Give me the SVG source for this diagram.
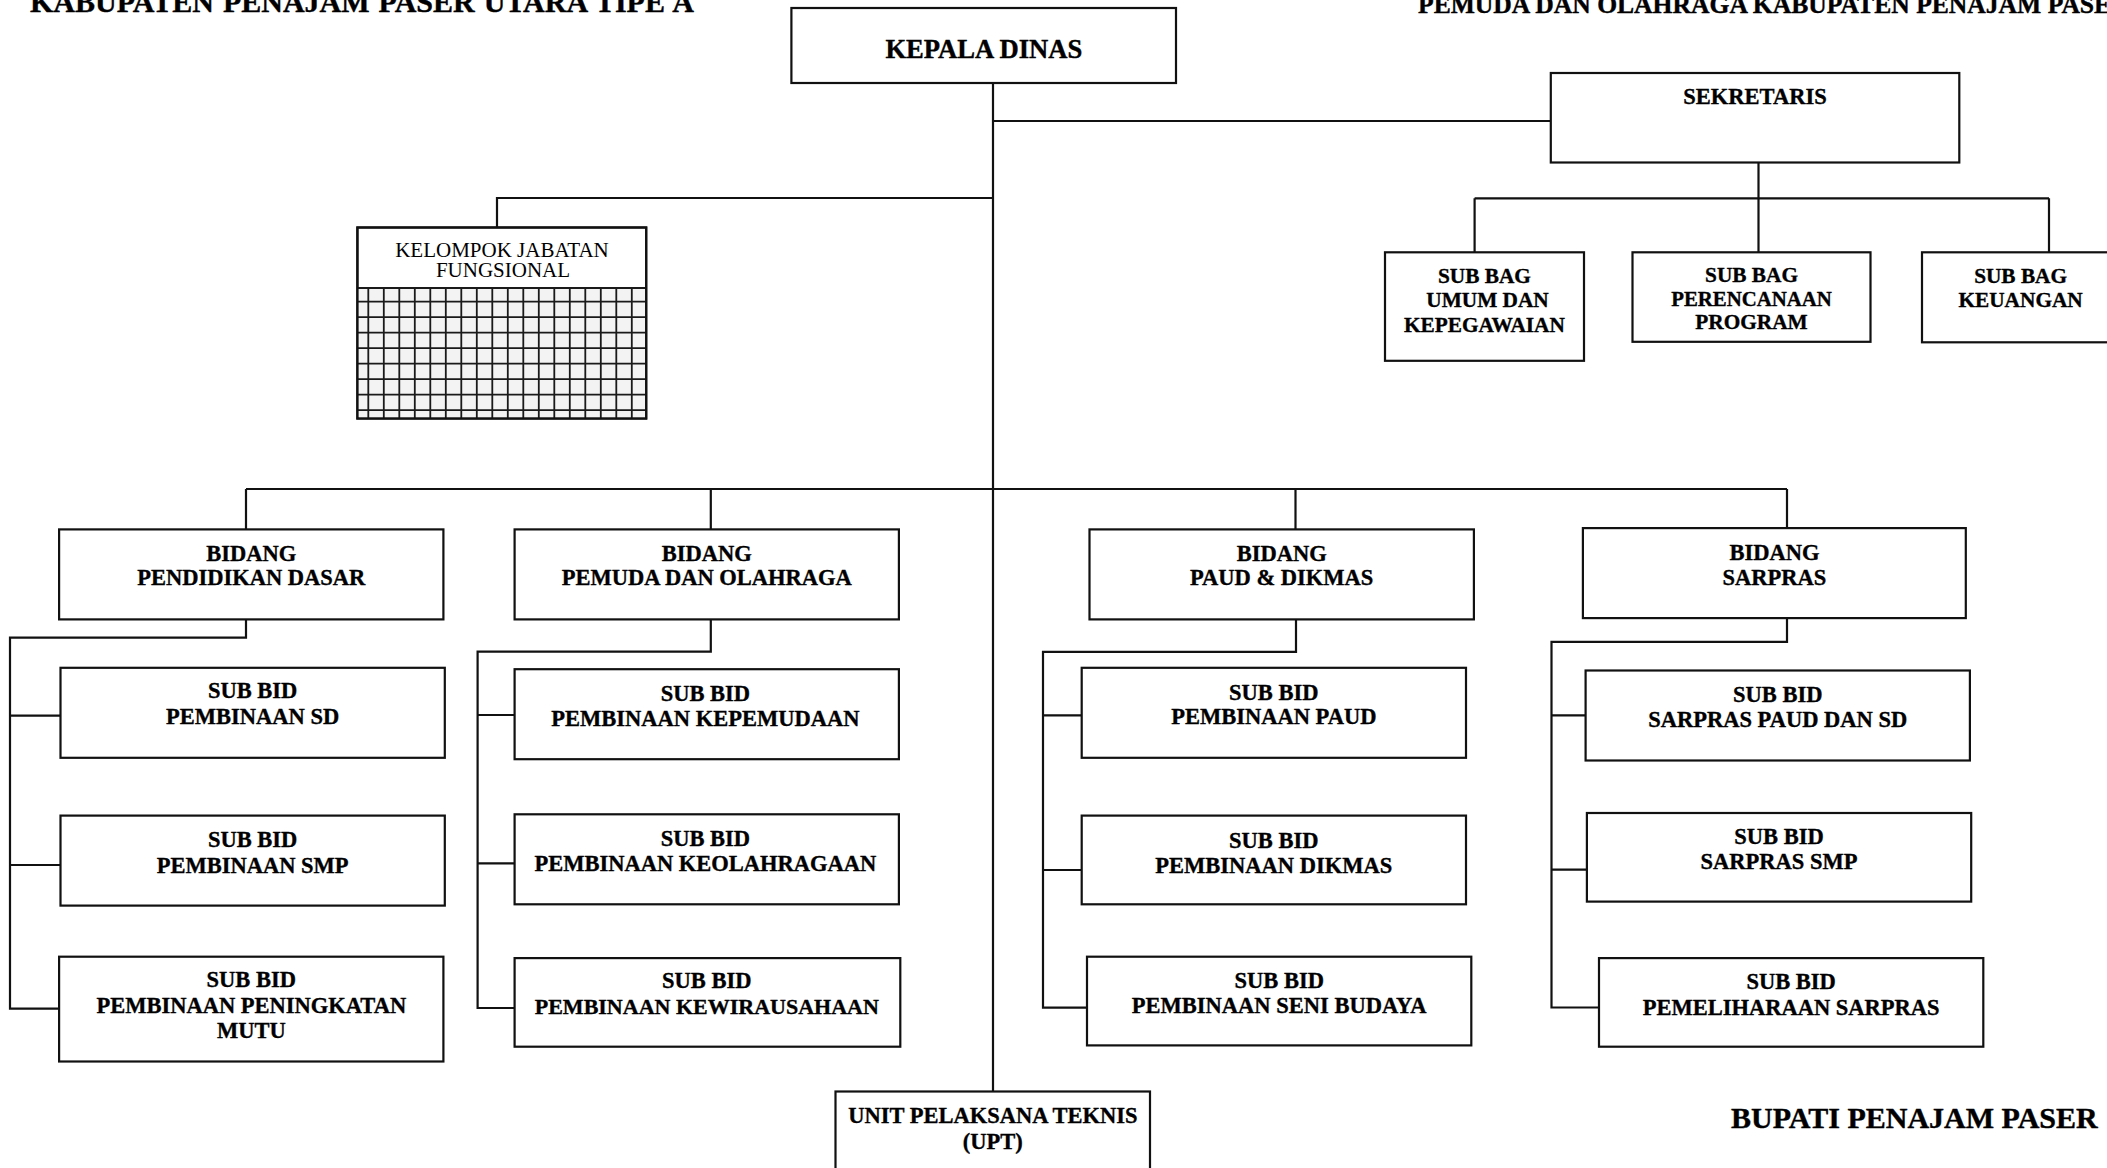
<svg xmlns="http://www.w3.org/2000/svg" width="2107" height="1168" viewBox="0 0 2107 1168">
<style>
.box{fill:#fff;stroke:#111;stroke-width:2.2}
.ln{fill:none;stroke:#111;stroke-width:2.2}
text{font-family:"Liberation Serif","Times New Roman",serif;fill:#000}
.b{font-weight:bold;font-size:22.5px;text-anchor:middle;stroke:#000;stroke-width:0.35}
.sb{font-weight:bold;font-size:21.3px;text-anchor:middle;stroke:#000;stroke-width:0.35}
.t{font-weight:bold;font-size:28px;stroke:#000;stroke-width:0.4}
.kjf{font-size:21px;text-anchor:middle}
.grid{fill:none;stroke:#1a1a1a;stroke-width:1.8}
</style>
<rect width="2107" height="1168" fill="#fff"/>

<g id="titles">
<text class="t" x="30" y="12" style="font-size:30px" word-spacing="1.5">KABUPATEN PENAJAM PASER UTARA TIPE A</text>
<text class="t" x="1418" y="12.5" style="font-size:25.6px">PEMUDA DAN OLAHRAGA KABUPATEN PENAJAM PASER</text>
<text class="t" x="1731" y="1128" style="font-size:30px">BUPATI PENAJAM PASER</text>
</g>

<g id="connectors" class="ln">
<path d="M993,83 V1091.5"/>
<path d="M993,121 H1551"/>
<path d="M1758.5,162.5 V252.3 M1474.6,198.3 H2049 M1474.6,198.3 V252.3 M2049,198.3 V252.3"/>
<path d="M993,198 H497 V227.5"/>
<path d="M246,489 H1787 M246,489 V529.4 M710.8,489 V529.4 M1295.5,489 V529.4 M1787,489 V528.1"/>
<path d="M246,619.4 V637.7 H10 V1008.7 H59.1 M10,715.7 H60.5 M10,865 H60.5"/>
<path d="M710.8,619.4 V651.7 H477.6 V1008 H514.6 M477.6,715 H514.6 M477.6,863.3 H514.6"/>
<path d="M1296,619.4 V651.8 H1043 V1007.7 H1087 M1043,715.3 H1086 M1043,870 H1083"/>
<path d="M1787,618.1 V641.8 H1551.5 V1007.5 H1599 M1551.5,715.3 H1588 M1551.5,869.6 H1587"/>
</g>

<g id="kepala-dinas">
<rect class="box" x="791.4" y="8" width="384.6" height="75"/>
<text x="983.8" y="58" style="font-weight:bold;font-size:26.6px;text-anchor:middle;stroke:#000;stroke-width:0.4">KEPALA DINAS</text>
</g>

<g id="sekretaris">
<rect class="box" x="1550.8" y="73" width="408.5" height="89.5"/>
<text class="b" x="1755" y="104">SEKRETARIS</text>
</g>

<g id="subbag-umum">
<rect class="box" x="1385" y="252.3" width="199" height="108.5"/>
<text class="sb" x="1484.4" y="282.7">SUB BAG</text>
<text class="sb" x="1487.5" y="307.3">UMUM DAN</text>
<text class="sb" x="1484.4" y="332.3">KEPEGAWAIAN</text>
</g>

<g id="subbag-perencanaan">
<rect class="box" x="1632.5" y="252.3" width="238" height="89.5"/>
<text class="sb" x="1751.5" y="281.7">SUB BAG</text>
<text class="sb" x="1751.5" y="306" style="font-size:20.8px">PERENCANAAN</text>
<text class="sb" x="1751.5" y="329.3">PROGRAM</text>
</g>

<g id="subbag-keuangan">
<rect class="box" x="1922" y="252.3" width="200" height="90"/>
<text class="sb" x="2020.6" y="282.7">SUB BAG</text>
<text class="sb" x="2020.6" y="307.3">KEUANGAN</text>
</g>

<g id="kelompok-jabatan-fungsional">
<rect class="box" x="357.4" y="227.5" width="288.8" height="191"/>
<rect x="358.5" y="288" width="286.6" height="129.5" fill="#f3f3f3"/>
<path class="grid" d="M357.4,288 H646.2 M357.4,301.7 H646.2 M357.4,317.2 H646.2 M357.4,332.7 H646.2 M357.4,348.2 H646.2 M357.4,363.7 H646.2 M357.4,379.2 H646.2 M357.4,394.7 H646.2 M357.4,410.2 H646.2
M368.3,288 V418.5 M383.8,288 V418.5 M399.3,288 V418.5 M414.8,288 V418.5 M430.3,288 V418.5 M445.8,288 V418.5 M461.3,288 V418.5 M476.8,288 V418.5 M492.3,288 V418.5 M507.8,288 V418.5 M523.3,288 V418.5 M538.8,288 V418.5 M554.3,288 V418.5 M569.8,288 V418.5 M585.3,288 V418.5 M600.8,288 V418.5 M616.3,288 V418.5 M631.8,288 V418.5"/>
<rect x="357.4" y="227.5" width="288.8" height="191" fill="none" stroke="#111" stroke-width="2.2"/>
<text class="kjf" x="502" y="256.7">KELOMPOK JABATAN</text>
<text class="kjf" x="503" y="276.7">FUNGSIONAL</text>
</g>

<g id="bidang-pendidikan-dasar">
<rect class="box" x="59.1" y="529.4" width="384.3" height="90"/>
<text class="b" x="251.3" y="560.5">BIDANG</text>
<text class="b" x="251.3" y="585">PENDIDIKAN DASAR</text>
</g>
<g id="bidang-pemuda-olahraga">
<rect class="box" x="514.6" y="529.4" width="384.3" height="90"/>
<text class="b" x="706.8" y="560.5">BIDANG</text>
<text class="b" x="706.8" y="585">PEMUDA DAN OLAHRAGA</text>
</g>
<g id="bidang-paud-dikmas">
<rect class="box" x="1089.5" y="529.4" width="384.4" height="90"/>
<text class="b" x="1281.7" y="560.5">BIDANG</text>
<text class="b" x="1281.7" y="585">PAUD &amp; DIKMAS</text>
</g>
<g id="bidang-sarpras">
<rect class="box" x="1582.9" y="528.1" width="382.9" height="90"/>
<text class="b" x="1774.4" y="560">BIDANG</text>
<text class="b" x="1774.4" y="584.5">SARPRAS</text>
</g>

<g id="subbid-sd">
<rect class="box" x="60.5" y="667.8" width="384.3" height="90"/>
<text class="b" x="252.6" y="698">SUB BID</text>
<text class="b" x="252.6" y="723.5">PEMBINAAN SD</text>
</g>
<g id="subbid-smp">
<rect class="box" x="60.5" y="815.6" width="384.3" height="90"/>
<text class="b" x="252.6" y="847">SUB BID</text>
<text class="b" x="252.6" y="872.5">PEMBINAAN SMP</text>
</g>
<g id="subbid-mutu">
<rect class="box" x="59.1" y="956.7" width="384.3" height="104.8"/>
<text class="b" x="251.3" y="987">SUB BID</text>
<text class="b" x="251.3" y="1012.5">PEMBINAAN PENINGKATAN</text>
<text class="b" x="251.3" y="1038">MUTU</text>
</g>

<g id="subbid-kepemudaan">
<rect class="box" x="514.6" y="669.2" width="384.3" height="90"/>
<text class="b" x="705.4" y="700.5">SUB BID</text>
<text class="b" x="705.4" y="725.5">PEMBINAAN KEPEMUDAAN</text>
</g>
<g id="subbid-keolahragaan">
<rect class="box" x="514.6" y="814.3" width="384.3" height="90"/>
<text class="b" x="705.4" y="845.5">SUB BID</text>
<text class="b" x="705.4" y="871">PEMBINAAN KEOLAHRAGAAN</text>
</g>
<g id="subbid-kewirausahaan">
<rect class="box" x="514.6" y="958.1" width="385.7" height="88.6"/>
<text class="b" x="706.8" y="988">SUB BID</text>
<text class="b" x="706.8" y="1013.5" style="font-size:22px">PEMBINAAN KEWIRAUSAHAAN</text>
</g>

<g id="subbid-paud">
<rect class="box" x="1081.7" y="667.8" width="384.3" height="90"/>
<text class="b" x="1273.8" y="699.5">SUB BID</text>
<text class="b" x="1273.8" y="724">PEMBINAAN PAUD</text>
</g>
<g id="subbid-dikmas">
<rect class="box" x="1081.7" y="815.6" width="384.3" height="88.7"/>
<text class="b" x="1273.8" y="847.5">SUB BID</text>
<text class="b" x="1273.8" y="872.5">PEMBINAAN DIKMAS</text>
</g>
<g id="subbid-seni-budaya">
<rect class="box" x="1087" y="956.7" width="384.3" height="88.7"/>
<text class="b" x="1279.2" y="988">SUB BID</text>
<text class="b" x="1279.2" y="1013">PEMBINAAN SENI BUDAYA</text>
</g>

<g id="subbid-sarpras-paud-sd">
<rect class="box" x="1585.6" y="670.5" width="384.3" height="90"/>
<text class="b" x="1777.7" y="701.5">SUB BID</text>
<text class="b" x="1777.7" y="727">SARPRAS PAUD DAN SD</text>
</g>
<g id="subbid-sarpras-smp">
<rect class="box" x="1586.9" y="813" width="384.3" height="88.6"/>
<text class="b" x="1779" y="843.5">SUB BID</text>
<text class="b" x="1779" y="869">SARPRAS SMP</text>
</g>
<g id="subbid-pemeliharaan">
<rect class="box" x="1599" y="958.1" width="384.3" height="88.6"/>
<text class="b" x="1791.1" y="988.5">SUB BID</text>
<text class="b" x="1791.1" y="1014.5">PEMELIHARAAN SARPRAS</text>
</g>

<g id="upt">
<rect class="box" x="835.5" y="1091.5" width="314.5" height="100"/>
<text class="b" x="992.8" y="1123.3">UNIT PELAKSANA TEKNIS</text>
<text class="b" x="992.8" y="1148.5">(UPT)</text>
</g>
</svg>
